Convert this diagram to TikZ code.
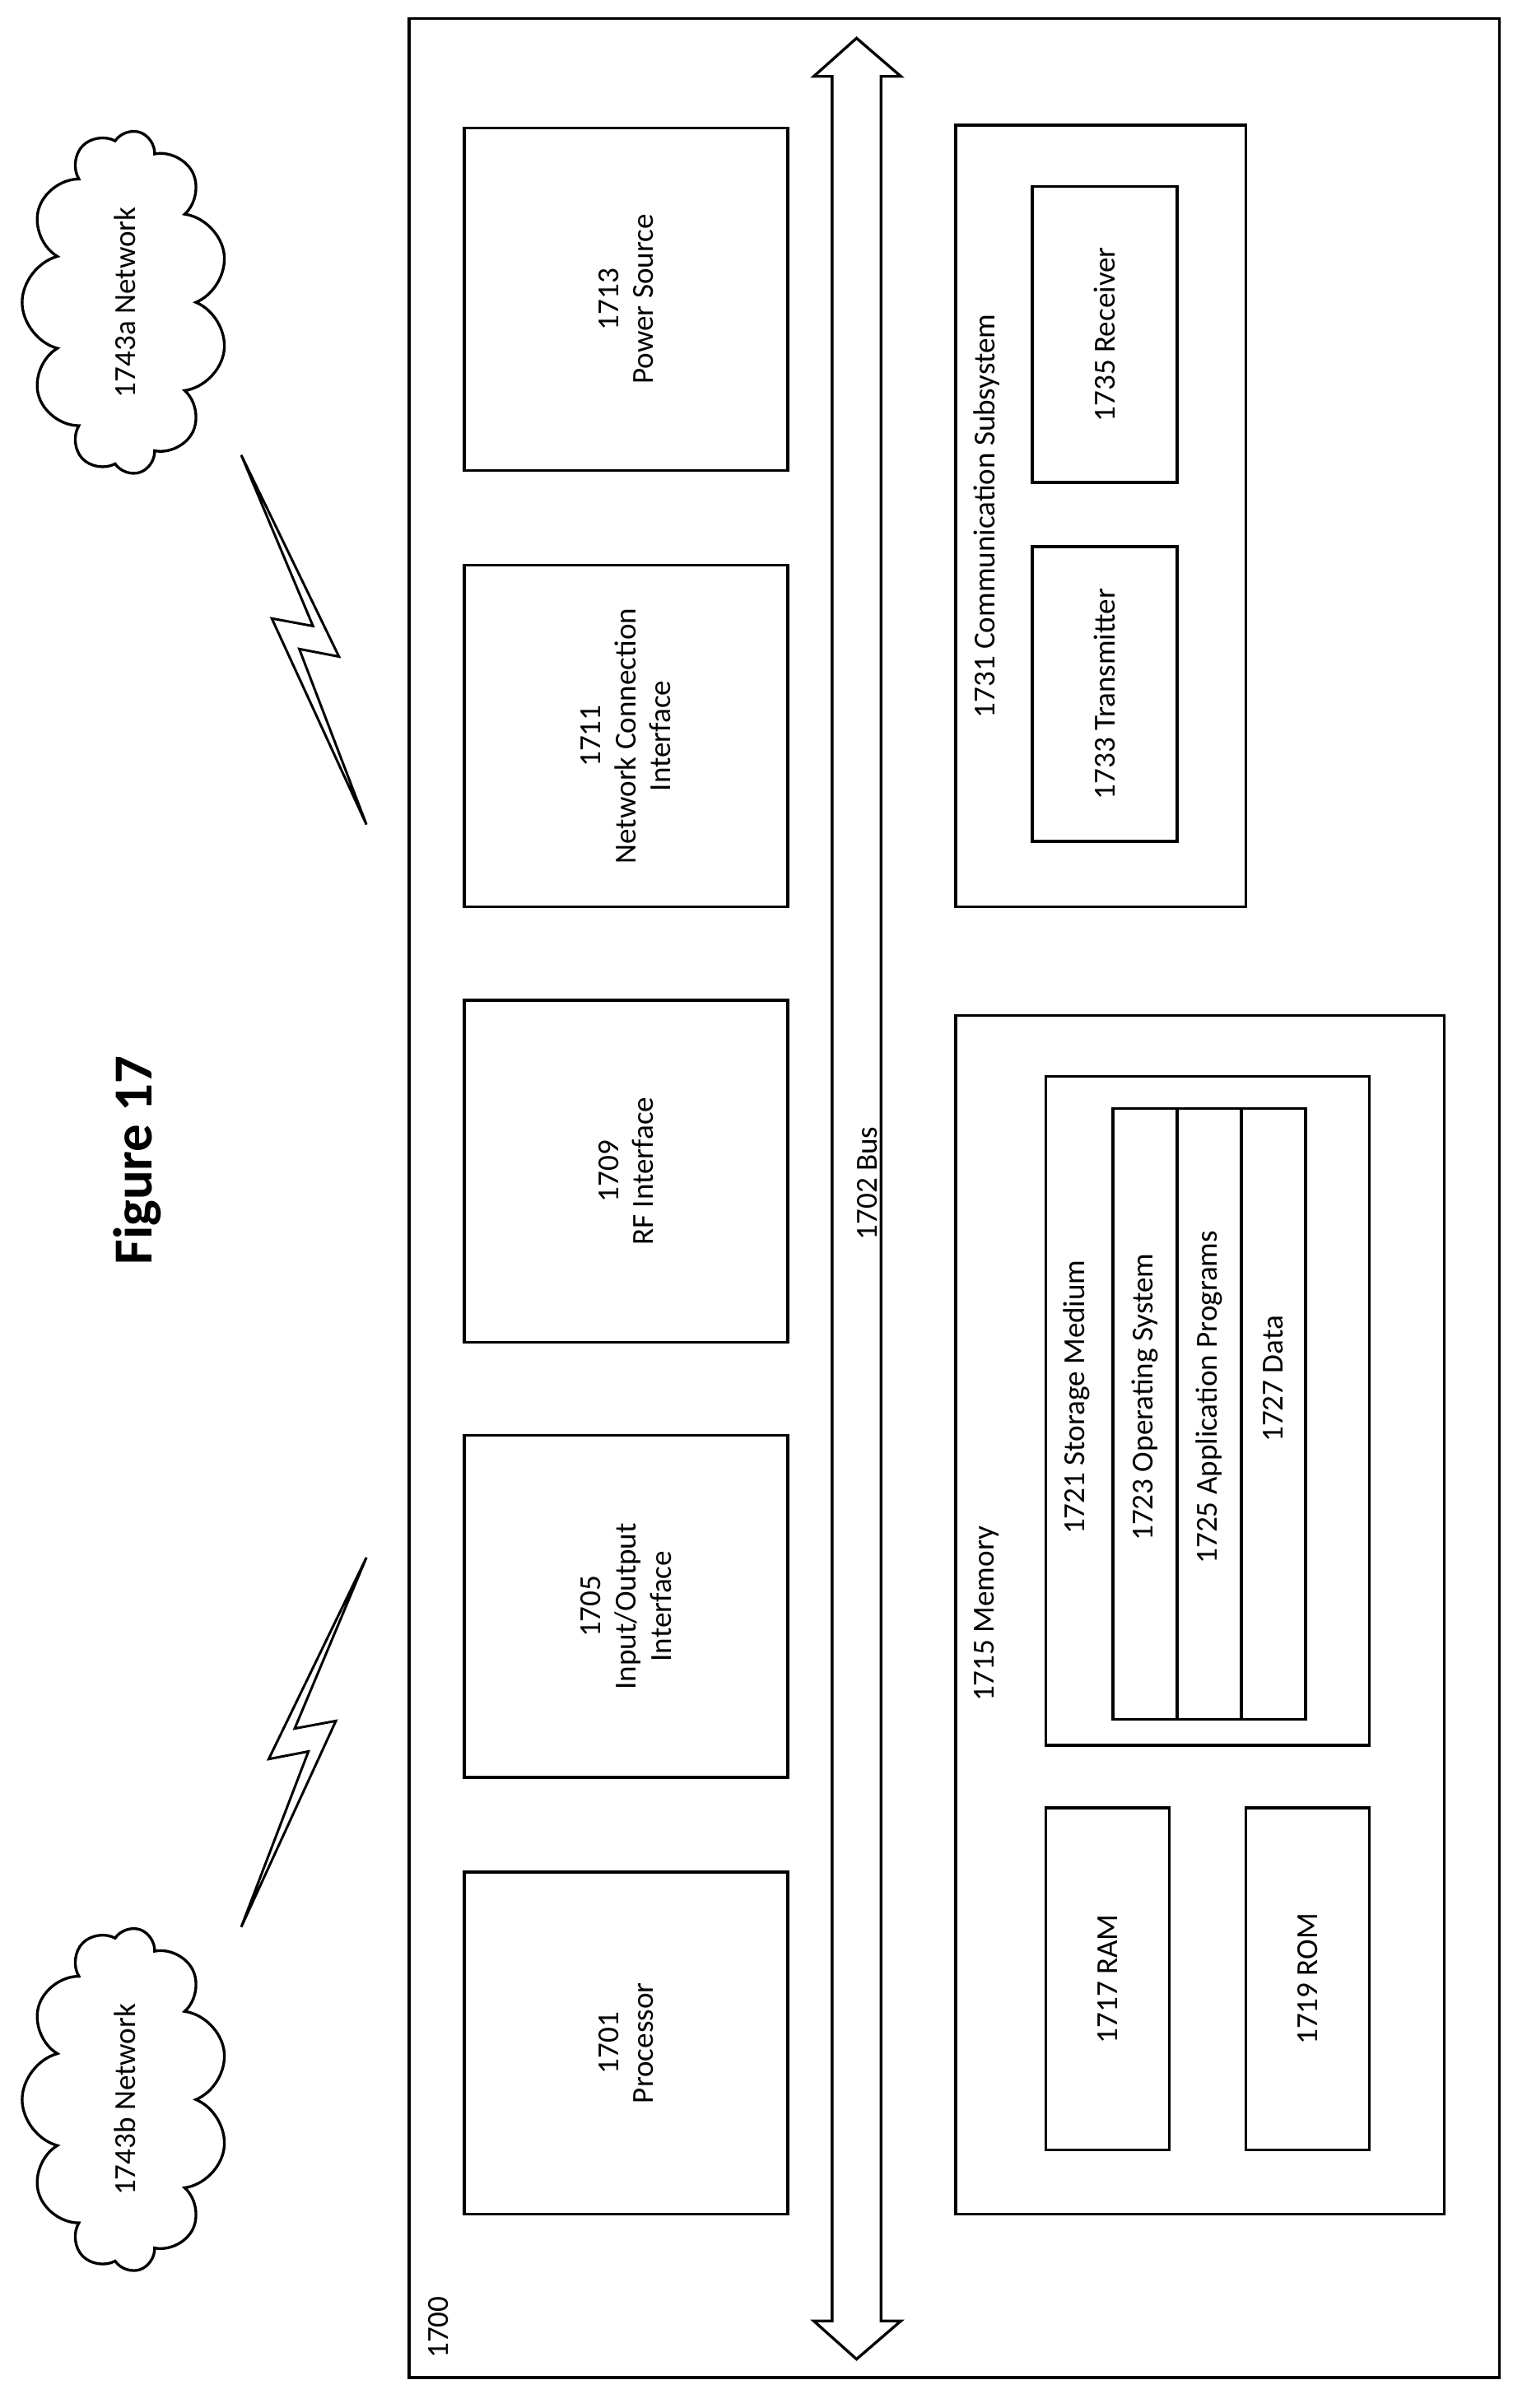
\documentclass[tikz,border=0pt]{standalone}
\usepackage{fontspec}
\setmainfont{Carlito}
\usetikzlibrary{shapes.symbols}
\tikzset{
  box/.style={draw, line width=1.8pt, inner sep=0pt},
  lbl/.style={rotate=90, align=center, font=\fontsize{20}{23}\selectfont},
  net/.style={cloud, draw, line width=1.8pt, cloud puffs=11, aspect=1.7, minimum width=225pt, minimum height=135pt, rotate=90},
}
\newcommand{\blk}[5]{% name, x1, y1, x2, y2
  \node[box, minimum width={(#4-#2)*1pt}, minimum height={(#5-#3)*1pt}] (#1) at ({(#2+#4)/2},{(#3+#5)/2}) {};}
\begin{document}
\begin{tikzpicture}[x=1pt, y=-1pt]
  \useasboundingbox (0,0) rectangle (1000,1577);
  % outer device
  \blk{dev}{268}{12}{982}{1557}
  \node[lbl, anchor=south west] (devl) at (297,1548) {1700};
  % bus
  \draw[line width=1.8pt, fill=white] (561,25) -- (590,50) -- (577,50) -- (577,1520) -- (590,1520)
     -- (561,1545) -- (533,1520) -- (545,1520) -- (545,50) -- (533,50) -- cycle;
  \node[lbl] (bus) at (568,775) {1702 Bus};
  % left column
  \blk{pwr}{304}{84}{516}{308}
  \blk{net}{304}{370}{516}{594}
  \blk{rf}{304}{655}{516}{879}
  \blk{io}{304}{940}{516}{1164}
  \blk{cpu}{304}{1226}{516}{1450}
  \node[lbl] at (pwr) {1713\\Power Source};
  \node[lbl] at (net) {1711\\Network Connection\\Interface};
  \node[lbl] at (rf) {1709\\RF Interface};
  \node[lbl] at (io) {1705\\Input/Output\\Interface};
  \node[lbl] at (cpu) {1701\\Processor};
  % communication subsystem
  \blk{comm}{626}{82}{816}{594}
  \node[lbl] (comml) at (646,338) {1731 Communication Subsystem};
  \blk{rx}{676}{122}{771}{316}
  \blk{tx}{676}{358}{771}{551}
  \node[lbl] at (rx) {1735 Receiver};
  \node[lbl] at (tx) {1733 Transmitter};
  % memory
  \blk{mem}{626}{665}{946}{1450}
  \node[lbl] (meml) at (646,1057) {1715 Memory};
  \blk{sto}{685}{705}{897}{1143}
  \node[lbl] (stol) at (705,915) {1721 Storage Medium};
  \blk{os}{729}{726}{771}{1126}
  \blk{app}{771}{726}{813}{1126}
  \blk{dat}{813}{726}{855}{1126}
  \node[lbl] at (750,915) {1723 Operating System};
  \node[lbl] at (792,915) {1725 Application Programs};
  \node[lbl] at (834,903) {1727 Data};
  \blk{ram}{685}{1184}{766}{1408}
  \blk{rom}{816}{1184}{897}{1408}
  \node[lbl] at (ram) {1717 RAM};
  \node[lbl] at (rom) {1719 ROM};
  % title
  \node[rotate=90, font=\fontsize{36}{40}\selectfont\bfseries] (title) at (90,760) {Figure 17};
  % networks
  \node[net] (neta) at (82,198) {};
  \node[lbl] at (neta) {1743a Network};
  \node[net] (netb) at (82,1375) {};
  \node[lbl] at (netb) {1743b Network};
  % wireless links
  \draw[line width=1.6pt, line join=miter] (158,298) -- (222,430) -- (196,425) -- (240,540) -- (178,405) -- (205,410) -- cycle;
  \draw[line width=1.6pt, line join=miter] (240,1020) -- (176,1152) -- (202,1147) -- (158,1262) -- (220,1127) -- (193,1132) -- cycle;
\end{tikzpicture}
\end{document}
